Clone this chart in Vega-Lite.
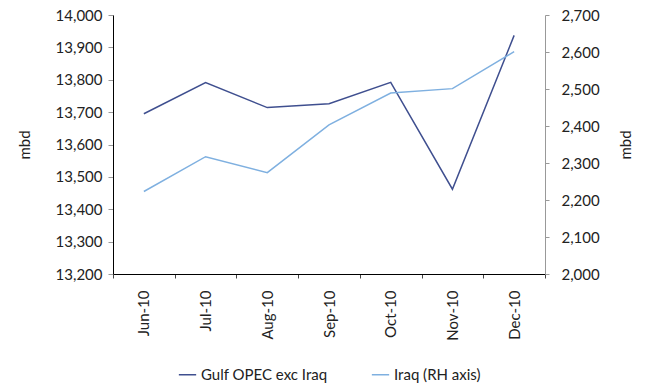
{
  "$schema": "https://vega.github.io/schema/vega-lite/v6.json",
  "width": 432,
  "height": 259,
  "padding": {"left": 17, "top": 8, "right": 5, "bottom": 5},
  "background": "white",
  "config": {
    "font": "Lato",
    "view": {"stroke": null},
    "axis": {"labelFont": "Lato", "titleFont": "Lato", "labelFontSize": 15, "titleFontSize": 15, "titleFontWeight": "normal", "labelColor": "#222222", "titleColor": "#222222", "grid": false},
    "legend": {"layout": {"bottom": {"anchor": "middle"}}}
  },
  "data": {"values": [
    {"month": "Jun-10", "series": "Gulf OPEC exc Iraq", "value": 13695},
    {"month": "Jul-10", "series": "Gulf OPEC exc Iraq", "value": 13791},
    {"month": "Aug-10", "series": "Gulf OPEC exc Iraq", "value": 13714},
    {"month": "Sep-10", "series": "Gulf OPEC exc Iraq", "value": 13726},
    {"month": "Oct-10", "series": "Gulf OPEC exc Iraq", "value": 13792},
    {"month": "Nov-10", "series": "Gulf OPEC exc Iraq", "value": 13462},
    {"month": "Dec-10", "series": "Gulf OPEC exc Iraq", "value": 13937},
    {"month": "Jun-10", "series": "Iraq (RH axis)", "value": 2223},
    {"month": "Jul-10", "series": "Iraq (RH axis)", "value": 2317},
    {"month": "Aug-10", "series": "Iraq (RH axis)", "value": 2274},
    {"month": "Sep-10", "series": "Iraq (RH axis)", "value": 2403},
    {"month": "Oct-10", "series": "Iraq (RH axis)", "value": 2489},
    {"month": "Nov-10", "series": "Iraq (RH axis)", "value": 2501},
    {"month": "Dec-10", "series": "Iraq (RH axis)", "value": 2601}
  ]},
  "encoding": {
    "x": {
      "field": "month", "type": "nominal", "sort": null, "bandPosition": 0.5,
      "scale": {"type": "band", "paddingInner": 0, "paddingOuter": 0},
      "axis": {"title": null, "labelAngle": -90, "labelAlign": "right", "labelBaseline": "middle", "labelPadding": 12, "tickBand": "extent", "domainColor": "#000000", "tickColor": "#444444", "tickSize": 4}
    },
    "color": {
      "field": "series", "type": "nominal",
      "scale": {"domain": ["Gulf OPEC exc Iraq", "Iraq (RH axis)"], "range": ["#3f4f8f", "#7fb0e0"]},
      "legend": {"title": null, "orient": "bottom", "direction": "horizontal", "symbolType": "stroke", "symbolSize": 300, "symbolStrokeWidth": 1.5, "labelFontSize": 15, "labelColor": "#222222", "columnPadding": 40, "offset": 24}
    }
  },
  "layer": [
    {
      "transform": [{"filter": "datum.series === 'Gulf OPEC exc Iraq'"}],
      "mark": {"type": "line", "strokeWidth": 1.5},
      "encoding": {
        "y": {"field": "value", "type": "quantitative",
          "scale": {"domain": [13200, 14000], "zero": false, "nice": false},
          "axis": {"title": "mbd", "format": ",d", "values": [13200, 13300, 13400, 13500, 13600, 13700, 13800, 13900, 14000], "domainColor": "#000000", "tickColor": "#999999", "tickSize": 5, "labelPadding": 6, "titlePadding": 23}}
      }
    },
    {
      "transform": [{"filter": "datum.series === 'Iraq (RH axis)'"}],
      "mark": {"type": "line", "strokeWidth": 1.5},
      "encoding": {
        "y": {"field": "value", "type": "quantitative",
          "scale": {"domain": [2000, 2700], "zero": false, "nice": false},
          "axis": {"orient": "right", "title": "mbd", "titleAngle": -90, "format": ",d", "values": [2000, 2100, 2200, 2300, 2400, 2500, 2600, 2700], "domainColor": "#999999", "tickColor": "#999999", "tickSize": 4, "labelPadding": 12, "titlePadding": 34}}
      }
    }
  ],
  "resolve": {"scale": {"y": "independent"}}
}
